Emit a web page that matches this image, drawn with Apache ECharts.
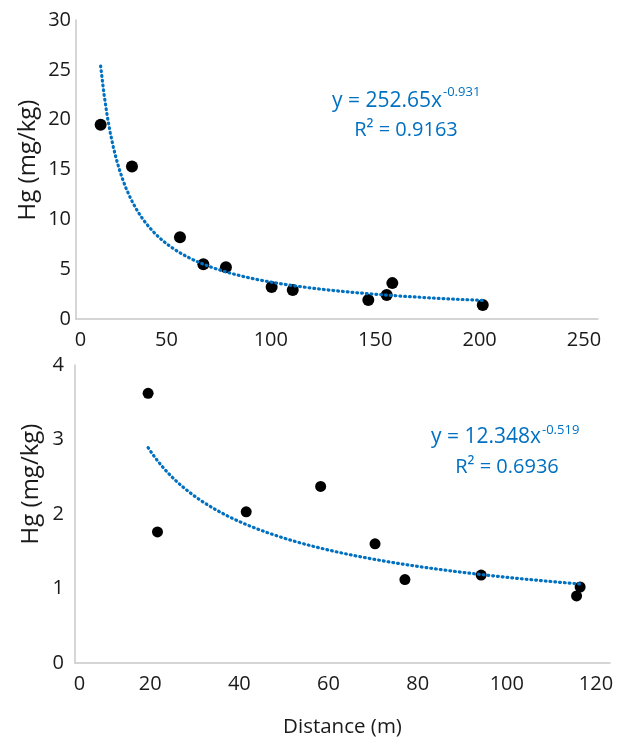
<!DOCTYPE html>
<html><head><meta charset="utf-8">
<script src="https://cdn.jsdelivr.net/npm/echarts@6/dist/echarts.min.js"></script>
<style>html,body{margin:0;padding:0;background:#fff}#c{width:617px;height:740px}</style>
</head><body><div id="c"></div>
<script>
// ---- data ----
const topDistance = [11.8, 26.8, 49.8, 61.0, 71.8, 93.7, 103.8, 140.0, 148.8, 151.5, 194.8];
const topHg       = [19.5, 15.3, 8.2, 5.5, 5.2, 3.2, 2.9, 1.9, 2.4, 3.6, 1.4];
const bottomDistance = [16.4, 18.5, 38.4, 55.1, 67.3, 74.0, 91.1, 113.3, 112.5];
const bottomHg       = [3.62, 1.76, 2.03, 2.37, 1.60, 1.12, 1.18, 1.02, 0.90];
// tick labels
const topXTicks = [0, 50, 100, 150, 200, 250];
const topYTicks = [0, 5, 10, 15, 20, 25, 30];
const bottomXTicks = [0, 20, 40, 60, 80, 100, 120];
const bottomYTicks = [0, 1, 2, 3, 4];
// power trendlines as printed on the chart: y = a * x^b
const topFit = [252.65, -0.931];
const topR2 = '0.9163';
const bottomFit = [12.348, -0.519];
const bottomR2 = '0.6936';
const yName = 'Hg (mg/kg)';
const xName = 'Distance (m)';

function trend(fit, xs) {
  const lo = Math.min(...xs), hi = Math.max(...xs), n = 120, out = [];
  for (let i = 0; i <= n; i++) {
    const x = lo + (hi - lo) * i / n;
    out.push([x, fit[0] * Math.pow(x, fit[1])]);
  }
  return out;
}
const zip = (a, b) => a.map((v, i) => [v, b[i]]);

const FONT = '"Open Sans", "Noto Sans", sans-serif';
const TXT = '#1a1a1a';
const BLUE = '#0070C0';
const AXIS = '#C8C8C8';

function xLabel(ticks) {
  return {
    margin: 11,
    formatter: v => ticks.includes(v) ? (v === 0 ? '{z|0}' : '{s|' + v + '}') : '',
    rich: {
      z: { fontSize: 20, fontFamily: FONT, color: TXT, padding: [0, 0, 0, 9] },
      s: { fontSize: 20, fontFamily: FONT, color: TXT, padding: [0, 28, 0, 0] }
    }
  };
}

const option = {
  animation: false,
  backgroundColor: '#fff',
  grid: [
    { left: 76, top: 20, width: 522, height: 299 },
    { left: 75, top: 365, width: 535, height: 298 }
  ],
  xAxis: [
    { gridIndex: 0, type: 'value', min: topXTicks[0], max: topXTicks[topXTicks.length - 1], interval: 50,
      axisLine: { lineStyle: { color: AXIS, width: 1.5 } }, axisTick: { show: false }, splitLine: { show: false },
      axisLabel: xLabel(topXTicks) },
    { gridIndex: 1, type: 'value', min: bottomXTicks[0], max: bottomXTicks[bottomXTicks.length - 1], interval: 20,
      axisLine: { lineStyle: { color: AXIS, width: 1.5 } }, axisTick: { show: false }, splitLine: { show: false },
      axisLabel: xLabel(bottomXTicks),
      name: xName, nameLocation: 'middle', nameGap: 54,
      nameTextStyle: { fontSize: 20.5, fontFamily: FONT, color: TXT } }
  ],
  yAxis: [
    { gridIndex: 0, type: 'value', min: topYTicks[0], max: topYTicks[topYTicks.length - 1], interval: 5,
      axisLine: { show: true, lineStyle: { color: AXIS, width: 1.5 } }, axisTick: { show: false }, splitLine: { show: false },
      axisLabel: { margin: 5, fontSize: 20, fontFamily: FONT, color: TXT } },
    { gridIndex: 1, type: 'value', min: bottomYTicks[0], max: bottomYTicks[bottomYTicks.length - 1], interval: 1,
      axisLine: { show: true, lineStyle: { color: AXIS, width: 1.5 } }, axisTick: { show: false }, splitLine: { show: false },
      axisLabel: { margin: 11, fontSize: 20, fontFamily: FONT, color: TXT } }
  ],
  series: [
    { type: 'scatter', xAxisIndex: 0, yAxisIndex: 0, data: zip(topDistance, topHg),
      symbolSize: 12, itemStyle: { color: '#000', opacity: 1 }, z: 2 },
    { type: 'line', xAxisIndex: 0, yAxisIndex: 0, data: trend(topFit, topDistance),
      showSymbol: false, smooth: false, z: 3,
      lineStyle: { color: BLUE, width: 3.2, type: [0.8, 4], cap: 'round' } },
    { type: 'scatter', xAxisIndex: 1, yAxisIndex: 1, data: zip(bottomDistance, bottomHg),
      symbolSize: 11, itemStyle: { color: '#000', opacity: 1 }, z: 2 },
    { type: 'line', xAxisIndex: 1, yAxisIndex: 1, data: trend(bottomFit, bottomDistance),
      showSymbol: false, smooth: false, z: 3,
      lineStyle: { color: BLUE, width: 3.2, type: [0.8, 4], cap: 'round' } }
  ],
  graphic: [
    { type: 'text', x: 28, y: 160, rotation: Math.PI / 2,
      style: { text: yName, fontSize: 24, fontFamily: FONT, fill: TXT, align: 'center', verticalAlign: 'middle' } },
    { type: 'text', x: 31, y: 484, rotation: Math.PI / 2,
      style: { text: yName, fontSize: 24, fontFamily: FONT, fill: TXT, align: 'center', verticalAlign: 'middle' } },
    { type: 'text', x: 442, y: 101,
      style: { text: 'y = ' + topFit[0] + 'x', fontSize: 21, fontFamily: FONT, fill: BLUE, align: 'right', verticalAlign: 'middle' } },
    { type: 'text', x: 443, y: 92,
      style: { text: String(topFit[1]), fontSize: 13, fontFamily: FONT, fill: BLUE, align: 'left', verticalAlign: 'middle' } },
    { type: 'text', x: 406, y: 130,
      style: { text: 'R² = ' + topR2, fontSize: 20, fontFamily: FONT, fill: BLUE, align: 'center', verticalAlign: 'middle' } },
    { type: 'text', x: 541, y: 437,
      style: { text: 'y = ' + bottomFit[0] + 'x', fontSize: 21, fontFamily: FONT, fill: BLUE, align: 'right', verticalAlign: 'middle' } },
    { type: 'text', x: 542, y: 430,
      style: { text: String(bottomFit[1]), fontSize: 13, fontFamily: FONT, fill: BLUE, align: 'left', verticalAlign: 'middle' } },
    { type: 'text', x: 507, y: 467,
      style: { text: 'R² = ' + bottomR2, fontSize: 20, fontFamily: FONT, fill: BLUE, align: 'center', verticalAlign: 'middle' } }
  ]
};
echarts.init(document.getElementById('c'), null, { renderer: 'canvas' }).setOption(option);
</script>
</body></html>
